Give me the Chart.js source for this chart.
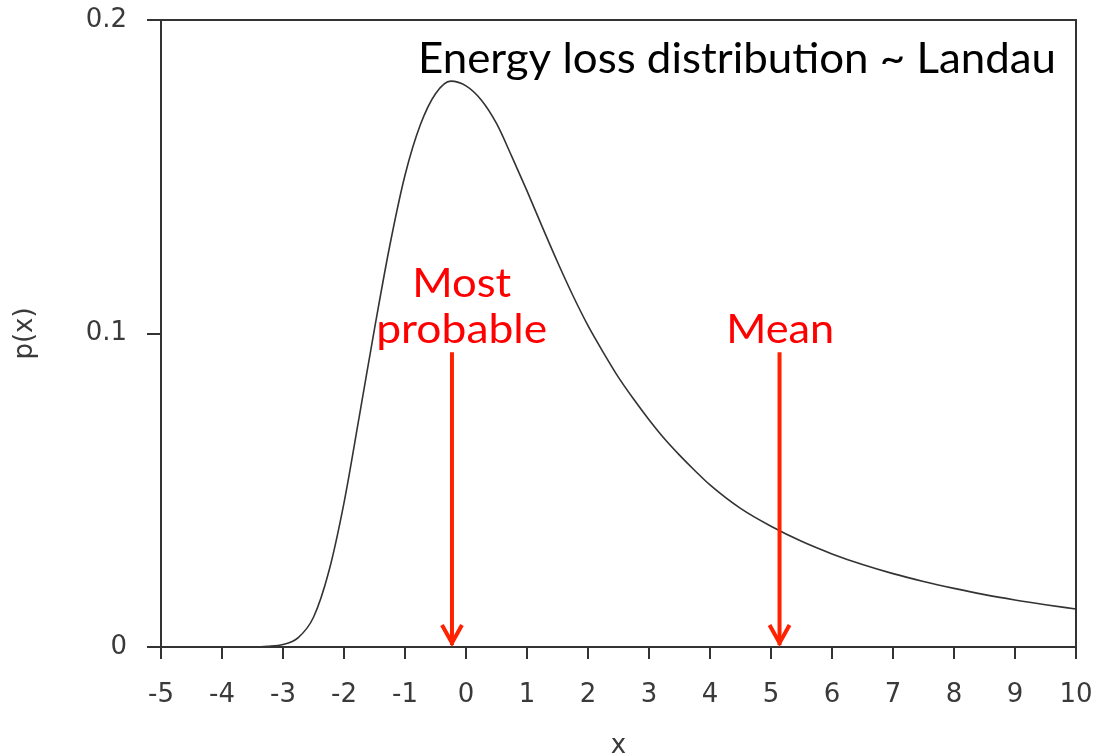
<!DOCTYPE html>
<html>
<head>
<meta charset="utf-8">
<script src="https://cdn.jsdelivr.net/npm/chart.js@4/dist/chart.umd.min.js"></script>
<style>
  html, body { margin: 0; padding: 0; background: #fff; }
  #wrap { width: 1093px; height: 756px; }
</style>
</head>
<body>
<div id="wrap"><canvas id="c" width="1093" height="756"></canvas></div>
<script>
// values
const xValues = [-5, -4.5, -4, -3.5, -3.25, -3, -2.75, -2.5, -2.25, -2, -1.75, -1.5, -1.25, -1, -0.75, -0.5, -0.25,
  0, 0.25, 0.5, 0.75, 1, 1.25, 1.5, 1.75, 2, 2.25, 2.5, 2.75, 3, 3.25, 3.5, 3.75, 4, 4.5, 5,
  5.5, 6, 6.5, 7, 7.5, 8, 8.5, 9, 9.5, 10];
const pValues = [0, 0, 0, 0.00002, 0.0002, 0.0008, 0.003, 0.0095, 0.024, 0.046, 0.0735, 0.1015, 0.128, 0.1505, 0.1665, 0.1765, 0.1805,
  0.179, 0.1745, 0.167, 0.1565, 0.1455, 0.134, 0.1228, 0.1122, 0.1025, 0.094, 0.086, 0.079, 0.0725, 0.0665, 0.0612, 0.0563, 0.0517, 0.0442, 0.0385,
  0.0337, 0.0297, 0.0263, 0.0234, 0.0209, 0.0187, 0.0167, 0.0150, 0.0135, 0.0121];

const yTicks = [0, 0.1, 0.2];
const chartTitle = "Energy loss distribution ~ Landau";

// arrows: most probable and mean
const arrowX = [-0.23, 5.14];
const arrowTop = 0.094;
const arrowLabels = [["Most", "probable"], ["Mean"]];
const labelX = [-0.07, 5.15];

const ink = "#333";
const tickInk = "#3a3a3a";
const red = "#ff0000";
const arrowRed = "#ff2200";

// draws text squeezed to a given width, since Calibri isn't installed
function fitText(ctx, text, x, y, width, align) {
  const w = ctx.measureText(text).width;
  const sx = width / w;
  ctx.save();
  ctx.translate(x, y);
  ctx.scale(sx, 1);
  ctx.textAlign = align;
  ctx.fillText(text, 0, 0);
  ctx.restore();
}

// fixed axis boxes so the plot area lands where the original has it
function fixBox(s, w, h) {
  if (w) s.width = w;
  if (h) s.height = h;
  s.paddingTop = 0;
  s.paddingBottom = 0;
  s.paddingLeft = 0;
  s.paddingRight = 0;
}

const overlay = {
  id: "overlay",
  afterDatasetsDraw(chart) {
    const { ctx, chartArea: a, scales } = chart;
    ctx.save();
    // box round the plot
    ctx.strokeStyle = ink;
    ctx.lineWidth = 2;
    ctx.strokeRect(a.left, a.top, a.right - a.left, a.bottom - a.top);

    // arrows
    ctx.strokeStyle = arrowRed;
    ctx.lineWidth = 4;
    ctx.lineCap = "butt";
    arrowX.forEach((v) => {
      const px = scales.x.getPixelForValue(v);
      const top = scales.y.getPixelForValue(arrowTop);
      const bot = scales.y.getPixelForValue(0) - 2;
      ctx.beginPath();
      ctx.moveTo(px, top);
      ctx.lineTo(px, bot);
      ctx.stroke();
      ctx.beginPath();
      ctx.lineJoin = "miter";
      ctx.moveTo(px - 10, bot - 20);
      ctx.lineTo(px, bot - 2);
      ctx.lineTo(px + 10, bot - 20);
      ctx.stroke();
    });

    // red labels
    ctx.fillStyle = red;
    ctx.font = "41px Lato";
    ctx.textBaseline = "alphabetic";
    const widths = { "Most": 99, "probable": 171, "Mean": 108 };
    arrowLabels.forEach((lines, i) => {
      const px = scales.x.getPixelForValue(labelX[i]);
      lines.forEach((t, j) => {
        const base = a.top + 323 - (lines.length - 1 - j) * 46;
        fitText(ctx, t, px, base, widths[t], "center");
      });
    });

    // title inside the plot
    ctx.fillStyle = "#000";
    ctx.font = "42px Lato";
    fitText(ctx, chartTitle, a.left + 257, a.top + 53, 638, "left");
    ctx.restore();
  }
};

new Chart(document.getElementById("c"), {
  type: "line",
  data: {
    datasets: [{
      data: xValues.map((x, i) => ({ x: x, y: pValues[i] })),
      borderColor: ink,
      borderWidth: 1.6,
      pointRadius: 0,
      fill: false,
      cubicInterpolationMode: "monotone"
    }]
  },
  options: {
    responsive: false,
    animation: false,
    layout: { padding: { top: 20, right: 17, left: 0, bottom: 0 } },
    plugins: { legend: { display: false }, tooltip: { enabled: false } },
    scales: {
      x: {
        type: "linear",
        min: -5,
        max: 10,
        afterFit: (s) => fixBox(s, 0, 109),
        ticks: { stepSize: 1, color: tickInk, padding: 21, font: { family: "DejaVu Sans", size: 26 } },
        grid: { drawOnChartArea: false, tickLength: 12, color: ink, lineWidth: 2 },
        border: { color: ink, width: 2 },
        title: { display: true, text: "x", color: tickInk, padding: { top: 0, bottom: -6 }, font: { family: "DejaVu Sans", size: 26 } }
      },
      y: {
        min: 0,
        max: 0.2,
        afterFit: (s) => fixBox(s, 161, 0),
        afterBuildTicks: (s) => { s.ticks = yTicks.map((v) => ({ value: v })); },
        ticks: { color: tickInk, padding: 20, font: { family: "DejaVu Sans", size: 26 }, callback: (v) => String(v) },
        grid: { drawOnChartArea: false, tickLength: 14, color: ink, lineWidth: 2 },
        border: { color: ink, width: 2 },
        title: { display: true, text: "p(x)", color: tickInk, padding: { top: 10, bottom: 0 }, font: { family: "DejaVu Sans", size: 26 } }
      }
    }
  },
  plugins: [overlay]
});
</script>
</body>
</html>
